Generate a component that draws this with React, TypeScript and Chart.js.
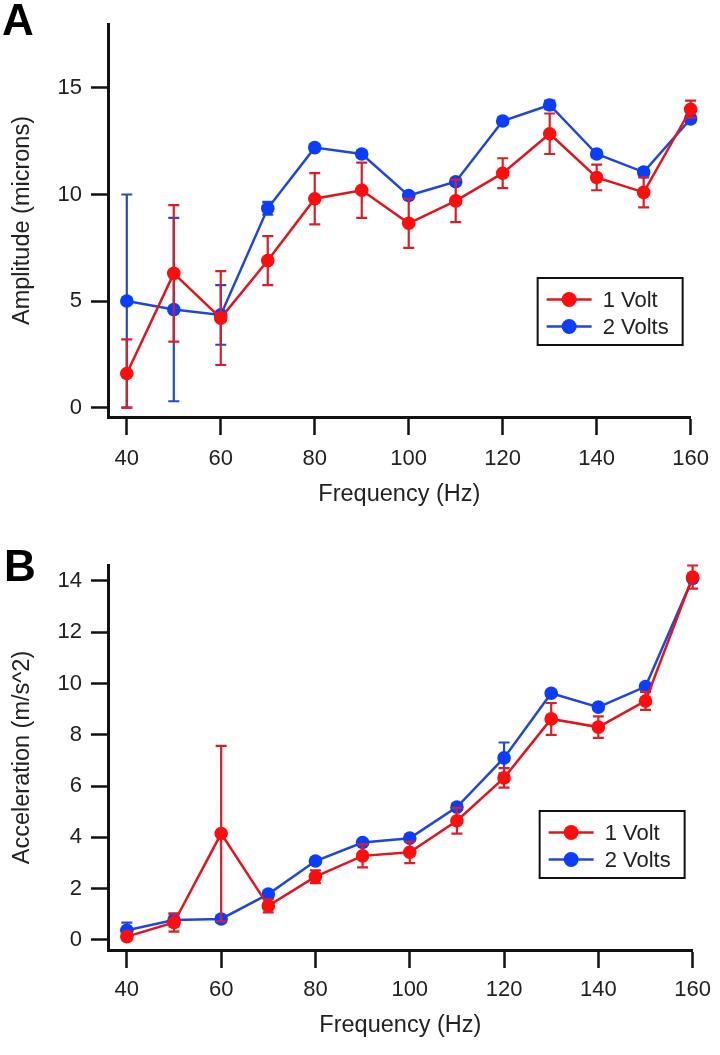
import React, { useEffect, useRef } from "react";
import { Chart, registerables } from "chart.js";

Chart.register(...registerables);

// ---------- data ----------
const frequencies = [40, 50, 60, 70, 80, 90, 100, 110, 120, 130, 140, 150, 160];
const xTicks = [40, 60, 80, 100, 120, 140, 160];
const seriesLabels = ["1 Volt", "2 Volts"];

const ampOneVolt = [1.6, 6.3, 4.2, 6.9, 9.8, 10.2, 8.65, 9.7, 11.0, 12.85, 10.8, 10.1, 14.0];
const ampOneVoltErr = [1.6, 3.2, 2.2, 1.15, 1.2, 1.3, 1.15, 1.0, 0.7, 0.95, 0.6, 0.7, 0.4];
const ampTwoVolts = [5.0, 4.6, 4.35, 9.35, 12.2, 11.9, 9.95, 10.6, 13.45, 14.2, 11.9, 11.05, 13.55];
const ampTwoVoltsErr = [5.0, 4.3, 1.4, 0.3, 0.15, 0.15, 0.15, 0.15, 0.15, 0.2, 0.15, 0.15, 0.15];
const ampTicks = [0, 5, 10, 15];

const accOneVolt = [0.13, 0.68, 4.15, 1.33, 2.47, 3.28, 3.42, 4.65, 6.32, 8.62, 8.3, 9.32, 14.15];
const accOneVoltErr = [0.12, 0.35, 3.42, 0.25, 0.25, 0.45, 0.42, 0.5, 0.38, 0.62, 0.42, 0.35, 0.45];
const accTwoVolts = [0.38, 0.78, 0.82, 1.79, 3.08, 3.8, 3.97, 5.18, 7.1, 9.62, 9.08, 9.88, 14.1];
const accTwoVoltsErr = [0.3, 0.25, 0.12, 0.1, 0.1, 0.1, 0.1, 0.1, 0.6, 0.1, 0.1, 0.1, 0.1];
const accTicks = [0, 2, 4, 6, 8, 10, 12, 14];

// ---------- style ----------
const FONT = "'Liberation Sans', Arial, Helvetica, sans-serif";
const TEXT = "#222222";
const AXIS = "#111111";
const RED_MARK = "#ff0d0d";
const RED_LINE = "#e0161e";
const BLUE_MARK = "#0b3dff";
const BLUE_LINE = "#2247d8";

const errorBarPlugin = {
  id: "errorBars",
  beforeDatasetDraw(chart: any, args: any) {
    const ds = chart.data.datasets[args.index];
    const errs: number[] = ds.errors || [];
    const xs = chart.scales.x;
    const ys = chart.scales.y;
    const ctx = chart.ctx;
    ctx.save();
    ctx.strokeStyle = ds.errorColor;
    ctx.lineWidth = 2.2;
    ds.data.forEach((p: any, i: number) => {
      const e = errs[i];
      if (!e) return;
      const px = xs.getPixelForValue(p.x);
      const top = ys.getPixelForValue(p.y + e);
      const bot = ys.getPixelForValue(p.y - e);
      ctx.beginPath();
      ctx.moveTo(px, top);
      ctx.lineTo(px, bot);
      ctx.moveTo(px - 5.5, top);
      ctx.lineTo(px + 5.5, top);
      ctx.moveTo(px - 5.5, bot);
      ctx.lineTo(px + 5.5, bot);
      ctx.stroke();
    });
    ctx.restore();
  },
};

const boxLegendPlugin = {
  id: "boxLegend",
  afterDraw(chart: any) {
    const opts = chart.options.plugins.boxLegend;
    if (!opts) return;
    const area = chart.chartArea;
    const ctx = chart.ctx;
    const w = opts.width;
    const h = opts.height;
    const left = area.right - opts.rightOffset - w;
    const top = area.bottom - opts.bottomOffset - h;
    ctx.save();
    ctx.fillStyle = "#ffffff";
    ctx.fillRect(left, top, w, h);
    ctx.strokeStyle = AXIS;
    ctx.lineWidth = 2;
    ctx.strokeRect(left, top, w, h);
    chart.data.datasets.forEach((ds: any, i: number) => {
      const cy = top + 21.5 + i * 27;
      ctx.strokeStyle = ds.borderColor;
      ctx.lineWidth = 2.5;
      ctx.beginPath();
      ctx.moveTo(left + 9, cy);
      ctx.lineTo(left + 54, cy);
      ctx.stroke();
      ctx.fillStyle = ds.pointBackgroundColor;
      ctx.beginPath();
      ctx.arc(left + 31.5, cy, 7.5, 0, Math.PI * 2);
      ctx.fill();
      ctx.fillStyle = TEXT;
      ctx.font = `22px ${FONT}`;
      ctx.textAlign = "left";
      ctx.textBaseline = "middle";
      ctx.fillText(ds.label, left + 65, cy + 1);
    });
    ctx.restore();
  },
};

type PanelProps = {
  height: number;
  chartTop: number;
  chartBottom: number;
  yMin: number;
  yMax: number;
  yTicks: number[];
  yTitle: string;
  one: number[];
  oneErr: number[];
  two: number[];
  twoErr: number[];
  xTickPad: number;
  xTitlePadBottom: number;
};

function Panel(props: PanelProps) {
  const ref = useRef<HTMLCanvasElement | null>(null);
  useEffect(() => {
    if (!ref.current) return;
    const toPts = (vals: number[]) => frequencies.map((f, i) => ({ x: f, y: vals[i] }));
    const chart = new Chart(ref.current, {
      type: "line",
      data: {
        datasets: [
          {
            label: seriesLabels[0],
            data: toPts(props.one),
            errors: props.oneErr,
            errorColor: "#d9202a",
            borderColor: RED_LINE,
            backgroundColor: RED_MARK,
            pointBackgroundColor: RED_MARK,
            pointBorderWidth: 0,
            pointRadius: 6.8,
            borderWidth: 2.5,
            tension: 0,
            clip: false,
          } as any,
          {
            label: seriesLabels[1],
            data: toPts(props.two),
            errors: props.twoErr,
            errorColor: "#2a48c8",
            borderColor: BLUE_LINE,
            backgroundColor: BLUE_MARK,
            pointBackgroundColor: BLUE_MARK,
            pointBorderWidth: 0,
            pointRadius: 6.8,
            borderWidth: 2.5,
            tension: 0,
            clip: false,
          } as any,
        ],
      },
      options: {
        animation: false,
        responsive: false,
        devicePixelRatio: 1,
        layout: { padding: { left: 0, top: props.chartTop, right: 26, bottom: 0 } },
        events: [],
        plugins: {
          legend: { display: false },
          tooltip: { enabled: false },
          boxLegend: { width: 145, height: 67, rightOffset: 8, bottomOffset: 72 },
        } as any,
        scales: {
          x: {
            type: "linear",
            min: 36,
            max: 160,
            afterBuildTicks: (s: any) => {
              s.ticks = xTicks.map((v) => ({ value: v }));
            },
            afterFit: (s: any) => {
              s.height = props.height - props.chartBottom;
            },
            grid: {
              drawOnChartArea: false,
              drawTicks: true,
              tickLength: 18,
              tickWidth: 2.5,
              tickColor: AXIS,
            },
            border: { display: true, color: AXIS, width: 3 },
            ticks: {
              padding: props.xTickPad,
              color: TEXT,
              font: { family: FONT, size: 22 },
              maxRotation: 0,
              autoSkip: false,
            },
            title: {
              display: true,
              text: "Frequency (Hz)",
              color: TEXT,
              font: { family: FONT, size: 23.5 },
              padding: { top: 0, bottom: props.xTitlePadBottom },
            },
          },
          y: {
            type: "linear",
            min: props.yMin,
            max: props.yMax,
            afterBuildTicks: (s: any) => {
              s.ticks = props.yTicks.map((v) => ({ value: v }));
            },
            afterFit: (s: any) => {
              s.width = 108;
            },
            grid: {
              drawOnChartArea: false,
              drawTicks: true,
              tickLength: 17,
              tickWidth: 2.5,
              tickColor: AXIS,
            },
            border: { display: true, color: AXIS, width: 3 },
            ticks: {
              padding: 9,
              color: TEXT,
              font: { family: FONT, size: 22 },
              autoSkip: false,
            },
            title: {
              display: true,
              text: props.yTitle,
              color: TEXT,
              font: { family: FONT, size: 23.5 },
              padding: { top: 8, bottom: 0 },
            },
          },
        },
      } as any,
      plugins: [errorBarPlugin, boxLegendPlugin],
    });
    return () => chart.destroy();
  }, []);
  return (
    <canvas
      ref={ref}
      width={720}
      height={props.height}
      style={{ display: "block", width: 720, height: props.height }}
    />
  );
}

const panelLabelStyle: React.CSSProperties = {
  position: "absolute",
  left: 2,
  fontFamily: FONT,
  fontWeight: "bold",
  fontSize: 44,
  lineHeight: "44px",
  color: "#000",
};

export default function App() {
  return (
    <div style={{ position: "absolute", left: 0, top: 0, width: 720, height: 1055, background: "#fff" }}>
      <div style={{ position: "absolute", left: 0, top: 0 }}>
        <Panel
          height={520}
          chartTop={24}
          chartBottom={417}
          yMin={-0.44}
          yMax={18}
          yTicks={ampTicks}
          yTitle="Amplitude (microns)"
          one={ampOneVolt}
          oneErr={ampOneVoltErr}
          two={ampTwoVolts}
          twoErr={ampTwoVoltsErr}
          xTickPad={11}
          xTitlePadBottom={11}
        />
      </div>
      <div style={{ position: "absolute", left: 0, top: 520 }}>
        <Panel
          height={535}
          chartTop={45}
          chartBottom={430}
          yMin={-0.39}
          yMax={14.62}
          yTicks={accTicks}
          yTitle="Acceleration (m/s^2)"
          one={accOneVolt}
          oneErr={accOneVoltErr}
          two={accTwoVolts}
          twoErr={accTwoVoltsErr}
          xTickPad={9}
          xTitlePadBottom={15}
        />
      </div>
      <div style={{ ...panelLabelStyle, top: -2 }}>A</div>
      <div style={{ ...panelLabelStyle, top: 544, left: 4 }}>B</div>
    </div>
  );
}
